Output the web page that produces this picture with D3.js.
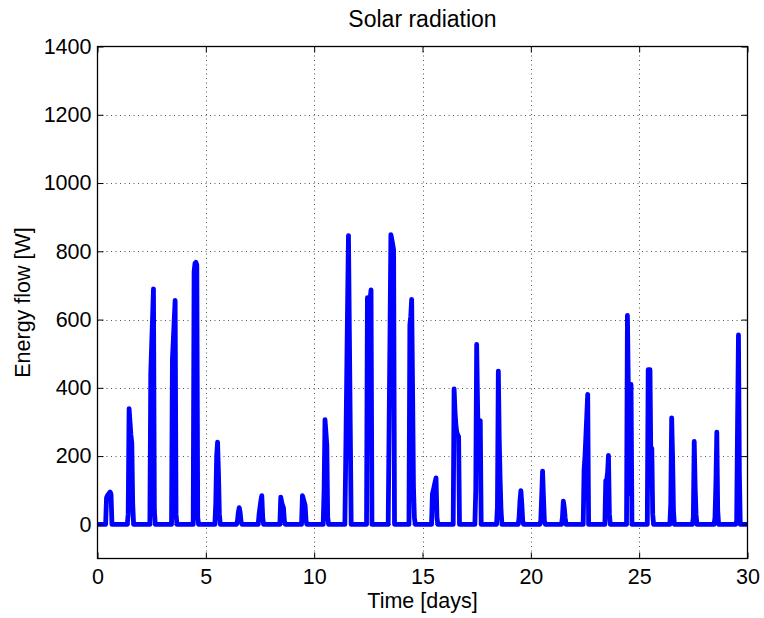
<!DOCTYPE html>
<html><head><meta charset="utf-8">
<script src="https://cdn.jsdelivr.net/npm/d3@7"></script>
<style>body{margin:0;background:#fff}text{font-family:"Liberation Sans",Arial,Helvetica,sans-serif;fill:#000}</style>
</head><body>
<svg id="chart" width="764" height="618"></svg>
<script>
const title = "Solar radiation";
const xLabel = "Time [days]";
const yLabel = "Energy flow [W]";
const xTicks = [0, 5, 10, 15, 20, 25, 30];
const yTicks = [0, 200, 400, 600, 800, 1000, 1200, 1400];
const xDomain = [0, 30];
const yDomain = [-100, 1400];
const hoursPerDay = 24;
// hours of the day with (possibly) nonzero radiation; other hours read as 0
const daylightHours = [8, 9, 10, 11, 12, 13, 14, 15, 16, 17];
// radiation [W] per day at the daylight hours above
const dailyProfiles = [
  [0, 0, 78, 84, 88, 92, 95, 88, 0, 0],          // day 0
  [0, 0, 30, 339, 300, 262, 238, 60, 0, 0],      // day 1
  [0, 0, 0, 442, 525, 607, 690, 40, 0, 0],       // day 2
  [0, 0, 0, 485, 540, 600, 656, 30, 0, 0],       // day 3
  [0, 0, 0, 740, 765, 768, 760, 20, 0, 0],       // day 4
  [0, 0, 0, 60, 200, 241, 150, 30, 0, 0],        // day 5
  [0, 0, 0, 10, 35, 49, 35, 8, 0, 0],            // day 6
  [0, 0, 0, 30, 50, 70, 84, 20, 0, 0],           // day 7
  [0, 0, 0, 80, 65, 55, 49, 10, 0, 0],           // day 8
  [0, 0, 0, 84, 75, 65, 55, 10, 0, 0],           // day 9
  [0, 0, 0, 100, 307, 270, 231, 20, 0, 0],       // day 10
  [0, 0, 0, 200, 420, 640, 846, 560, 280, 0],    // day 11
  [0, 0, 0, 664, 560, 387, 660, 687, 0, 0],      // day 12
  [0, 0, 0, 280, 560, 849, 835, 820, 804, 0],    // day 13
  [0, 0, 585, 610, 659, 400, 109, 20, 0, 0],     // day 14
  [0, 0, 0, 90, 100, 112, 125, 136, 20, 0],      // day 15
  [0, 0, 0, 397, 330, 290, 270, 262, 257, 0],    // day 16
  [0, 0, 0, 100, 527, 350, 187, 250, 304, 0],    // day 17
  [0, 0, 0, 50, 449, 250, 128, 40, 0, 0],        // day 18
  [0, 0, 0, 20, 70, 99, 60, 10, 0, 0],           // day 19
  [0, 0, 0, 10, 80, 156, 80, 10, 0, 0],          // day 20
  [0, 0, 0, 20, 68, 50, 20, 0, 0, 0],            // day 21
  [0, 0, 0, 160, 200, 260, 320, 381, 0, 0],      // day 22
  [0, 0, 0, 128, 130, 150, 202, 30, 0, 0],       // day 23
  [0, 0, 0, 612, 400, 250, 90, 410, 0, 0],       // day 24
  [0, 0, 453, 453, 453, 170, 223, 30, 0, 0],     // day 25
  [0, 0, 0, 60, 312, 200, 40, 0, 0, 0],          // day 26
  [0, 0, 0, 0, 20, 243, 110, 30, 0, 0],          // day 27
  [0, 0, 0, 0, 20, 120, 270, 40, 0, 0],          // day 28
  [0, 0, 0, 0, 10, 300, 555, 150, 0, 0]          // day 29
];

// assemble hourly series: t in days, value in W
const series = [];
dailyProfiles.forEach((prof, d) => {
  for (let h = 0; h < hoursPerDay; h++) {
    const i = daylightHours.indexOf(h);
    series.push({ t: d + h / hoursPerDay, v: i >= 0 ? prof[i] : 0 });
  }
});
series.push({ t: dailyProfiles.length, v: 0 });

const svg = d3.select("#chart");
const L = 97.5, R = 747.5, T = 46.5, B = 558.5;
const x = d3.scaleLinear().domain(xDomain).range([L, R]);
const y = d3.scaleLinear().domain(yDomain).range([B, T]);
const fontSize = 21.5;

svg.append("rect").attr("width", 764).attr("height", 618).attr("fill", "#fff");

// grid
const grid = svg.append("g").attr("stroke", "#555").attr("stroke-width", 1).attr("stroke-dasharray", "1,3.5");
grid.selectAll(".gx").data(xTicks.filter(v => v > xDomain[0] && v < xDomain[1])).join("line")
  .attr("x1", d => Math.round(x(d)) + 0.5).attr("x2", d => Math.round(x(d)) + 0.5).attr("y1", T).attr("y2", B);
grid.selectAll(".gy").data(yTicks.filter(v => v > yDomain[0] && v < yDomain[1])).join("line")
  .attr("y1", d => Math.round(y(d)) + 0.5).attr("y2", d => Math.round(y(d)) + 0.5).attr("x1", L).attr("x2", R);

// clip
svg.append("clipPath").attr("id", "clip").append("rect")
  .attr("x", L).attr("y", T).attr("width", R - L).attr("height", B - T);

const line = d3.line().x(d => x(d.t)).y(d => y(d.v));
svg.append("path").datum(series).attr("clip-path", "url(#clip)")
  .attr("d", line).attr("fill", "none").attr("stroke", "#0000ff")
  .attr("stroke-width", 4.8).attr("stroke-linejoin", "round");

// axes (MATLAB-like inward ticks on all sides)
const tickLen = 6;
const ax = svg.append("g");
ax.append("g").attr("transform", `translate(0,${B})`)
  .call(d3.axisBottom(x).tickValues(xTicks).tickSizeInner(-tickLen).tickSizeOuter(0).tickPadding(10).tickFormat(d3.format("d")))
  .call(g => g.select(".domain").remove())
  .call(g => g.selectAll("text").attr("font-size", fontSize).attr("font-family", "Liberation Sans, Arial, sans-serif"));
ax.append("g").attr("transform", `translate(0,${T})`)
  .call(d3.axisTop(x).tickValues(xTicks).tickSizeInner(-tickLen).tickSizeOuter(0).tickFormat(""))
  .call(g => g.select(".domain").remove());
ax.append("g").attr("transform", `translate(${L},0)`)
  .call(d3.axisLeft(y).tickValues(yTicks).tickSizeInner(-tickLen).tickSizeOuter(0).tickPadding(6).tickFormat(d3.format("d")))
  .call(g => g.select(".domain").remove())
  .call(g => g.selectAll("text").attr("font-size", fontSize).attr("font-family", "Liberation Sans, Arial, sans-serif"));
ax.append("g").attr("transform", `translate(${R},0)`)
  .call(d3.axisRight(y).tickValues(yTicks).tickSizeInner(-tickLen).tickSizeOuter(0).tickFormat(""))
  .call(g => g.select(".domain").remove());
ax.selectAll(".tick line").attr("stroke", "#000");
svg.append("rect").attr("x", L).attr("y", T).attr("width", R - L).attr("height", B - T)
  .attr("fill", "none").attr("stroke", "#000").attr("stroke-width", 1.3);

// labels
svg.append("text").attr("x", (L + R) / 2).attr("y", 27).attr("text-anchor", "middle")
  .attr("font-size", 23).text(title);
svg.append("text").attr("x", (L + R) / 2).attr("y", 608).attr("text-anchor", "middle")
  .attr("font-size", fontSize).text(xLabel);
svg.append("text").attr("transform", `translate(30,${(T + B) / 2}) rotate(-90)`).attr("text-anchor", "middle")
  .attr("font-size", fontSize).text(yLabel);
</script>
</body></html>
